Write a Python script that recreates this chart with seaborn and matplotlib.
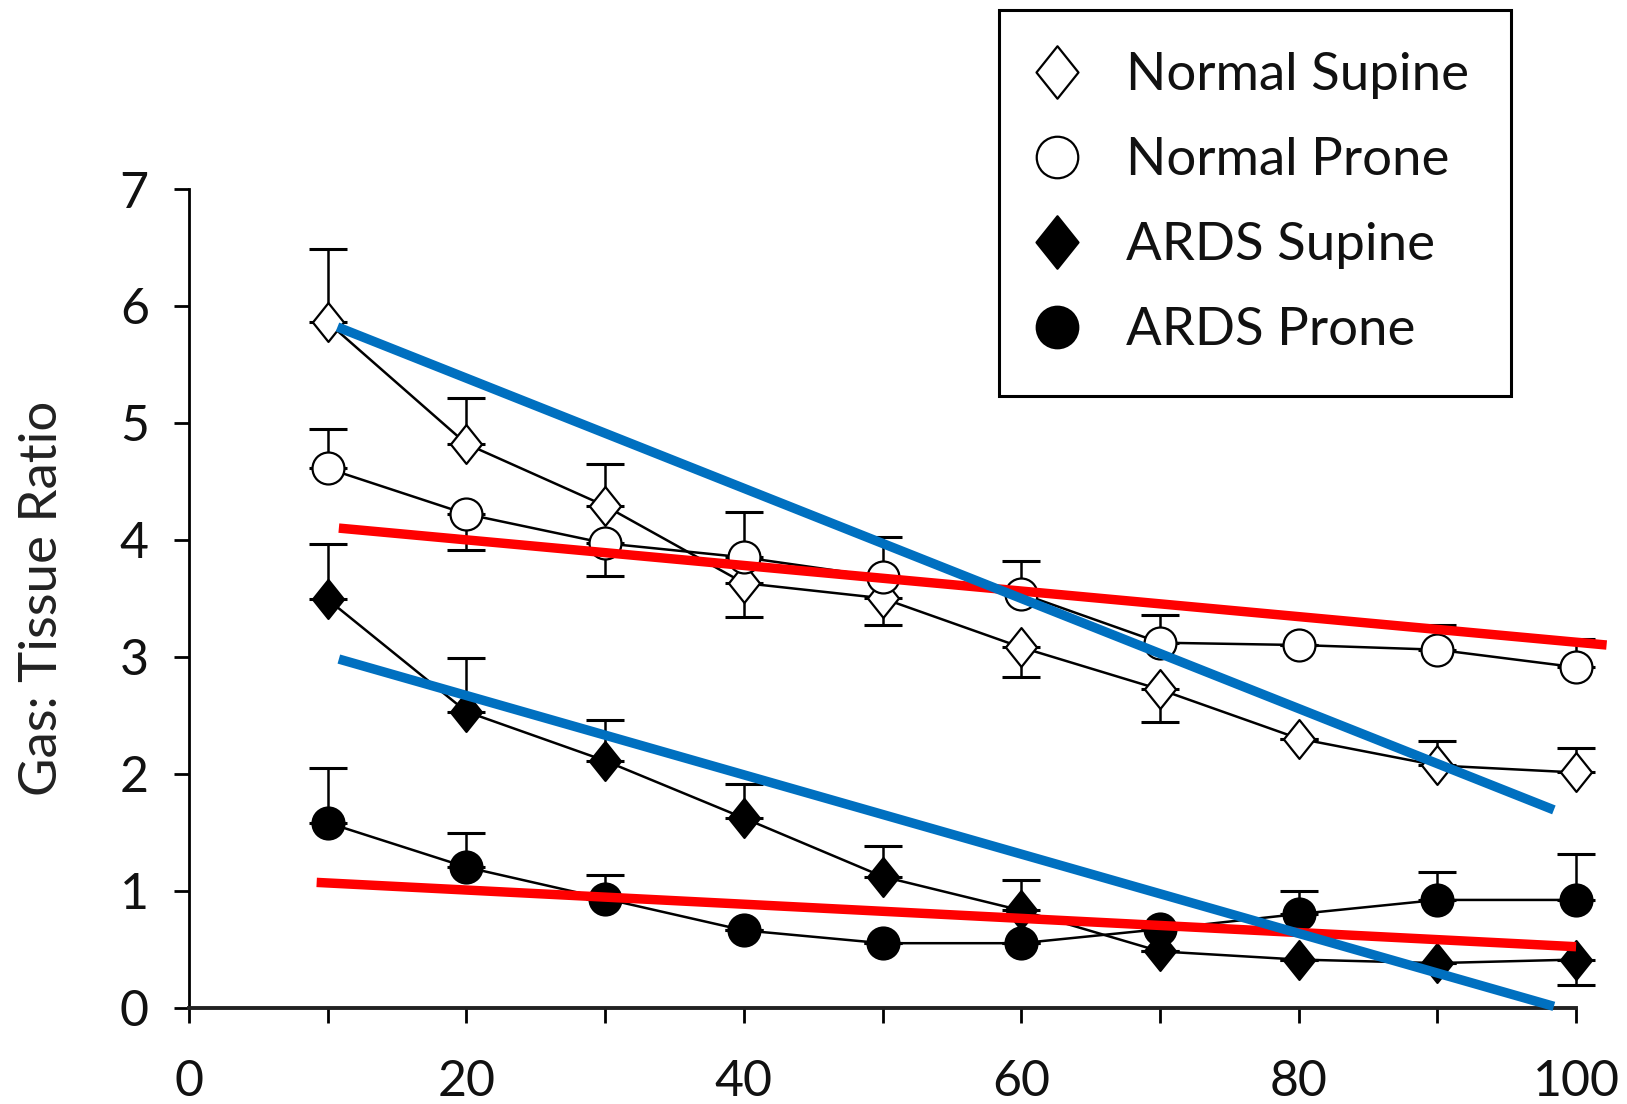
import numpy as np
import pandas as pd
import matplotlib
matplotlib.use("Agg")
import matplotlib.pyplot as plt
import seaborn as sns
from matplotlib.path import Path
from matplotlib.lines import Line2D

# ---------------- data ----------------
depth = [10, 20, 30, 40, 50, 60, 70, 80, 90, 100]

normal_supine = [5.86, 4.82, 4.29, 3.63, 3.50, 3.08, 2.72, 2.30, 2.07, 2.01]
normal_supine_lo = [0, 0, 0, 0.29, 0.23, 0.25, 0.28, 0, 0, 0]
normal_supine_hi = [0.63, 0.39, 0.36, 0, 0, 0, 0, 0, 0.21, 0.21]

normal_prone = [4.61, 4.22, 3.97, 3.85, 3.68, 3.54, 3.12, 3.10, 3.06, 2.91]
normal_prone_lo = [0, 0.31, 0.28, 0, 0, 0, 0, 0, 0, 0]
normal_prone_hi = [0.34, 0, 0, 0.39, 0.34, 0.28, 0.24, 0, 0.21, 0.24]

ards_supine = [3.49, 2.53, 2.11, 1.62, 1.12, 0.83, 0.48, 0.41, 0.38, 0.41]
ards_supine_lo = [0, 0, 0, 0, 0, 0, 0, 0, 0, 0.22]
ards_supine_hi = [0.47, 0.46, 0.35, 0.29, 0.26, 0.26, 0, 0, 0, 0]

ards_prone = [1.58, 1.20, 0.93, 0.66, 0.55, 0.55, 0.67, 0.80, 0.92, 0.92]
ards_prone_lo = [0, 0, 0, 0, 0, 0, 0, 0, 0, 0]
ards_prone_hi = [0.47, 0.29, 0.20, 0, 0, 0, 0, 0.20, 0.24, 0.39]

series_names = ["Normal Supine", "Normal Prone", "ARDS Supine", "ARDS Prone"]

# trend lines (start / end points)
red_top_x = [10.8, 102.2]
red_top_y = [4.10, 3.10]
red_bot_x = [9.2, 100.0]
red_bot_y = [1.07, 0.52]
blue_top_x = [10.7, 98.4]
blue_top_y = [5.82, 1.69]
blue_bot_x = [10.8, 98.4]
blue_bot_y = [2.98, 0.01]

x_ticks = [0, 20, 40, 60, 80, 100]
y_ticks = [0, 1, 2, 3, 4, 5, 6, 7]
y_label = "Gas: Tissue Ratio"

# ---------------- style ----------------
sns.set_theme(style="ticks")
plt.rcParams["font.family"] = ["Lato", "DejaVu Sans"]

fig = plt.figure(figsize=(16.27, 11.04), dpi=100)
ax = fig.add_axes([0.1162, 0.0874, 0.9687 - 0.1162, 0.8288 - 0.0874])

diamond = Path([(0, 1), (0.8, 0), (0, -1), (-0.8, 0), (0, 1)],
               [Path.MOVETO, Path.LINETO, Path.LINETO, Path.LINETO, Path.CLOSEPOLY])

styles = {
    "Normal Supine": dict(marker=diamond, mfc="white", ms=28),
    "Normal Prone": dict(marker="o", mfc="white", ms=23),
    "ARDS Supine": dict(marker=diamond, mfc="black", ms=28),
    "ARDS Prone": dict(marker="o", mfc="black", ms=23),
}
vals = {
    "Normal Supine": (normal_supine, normal_supine_lo, normal_supine_hi),
    "Normal Prone": (normal_prone, normal_prone_lo, normal_prone_hi),
    "ARDS Supine": (ards_supine, ards_supine_lo, ards_supine_hi),
    "ARDS Prone": (ards_prone, ards_prone_lo, ards_prone_hi),
}

for name in series_names:
    y, lo, hi = vals[name]
    ax.errorbar(depth, y, yerr=[lo, hi], fmt="none", ecolor="black",
                elinewidth=1.8, capsize=14, capthick=2.2, zorder=2, clip_on=False)

for name in series_names:
    y, lo, hi = vals[name]
    st = styles[name]
    df = pd.DataFrame({"x": depth, "y": y})
    sns.lineplot(data=df, x="x", y="y", ax=ax, color="black", linewidth=1.8,
                 marker=st["marker"], markersize=st["ms"],
                 markerfacecolor=st["mfc"], markeredgecolor="black",
                 markeredgewidth=1.6, label=name, zorder=3, clip_on=False,
                 legend=False)

for xs, ys, c in [(red_top_x, red_top_y, "#ff0000"),
                  (red_bot_x, red_bot_y, "#ff0000"),
                  (blue_top_x, blue_top_y, "#0070c0"),
                  (blue_bot_x, blue_bot_y, "#0070c0")]:
    sns.lineplot(x=xs, y=ys, ax=ax, color=c, linewidth=6.8,
                 solid_capstyle="butt", zorder=5, clip_on=False, legend=False)

ax.set_xlim(0, 100)
ax.set_ylim(0, 7)
ax.set_xticks(x_ticks)
ax.set_xticks([10, 30, 50, 70, 90], minor=True)
ax.set_yticks(y_ticks)
ax.set_xlabel("")
ax.set_ylabel(y_label, fontsize=38, color="#222222")
ax.yaxis.set_label_coords(-0.089, 0.5)

ax.tick_params(axis="both", which="both", direction="out", length=11,
               width=2, color="black", labelsize=36, labelcolor="#111111")
ax.tick_params(axis="x", which="both", pad=26)
ax.tick_params(axis="y", pad=18)
sns.despine(ax=ax)
ax.spines["left"].set_linewidth(2)
ax.spines["bottom"].set_linewidth(2.8)
ax.spines["left"].set_color("black")
ax.spines["bottom"].set_color("#222222")
ax.patch.set_facecolor("white")

leg_handles = []
for name in series_names:
    st = styles[name]
    leg_handles.append(Line2D([], [], linestyle="none", marker=st["marker"],
                              markersize=st["ms"] * (1.35 if st["marker"] is diamond else 1.3),
                              markerfacecolor=st["mfc"], markeredgecolor="black",
                              markeredgewidth=1.6))
leg = fig.legend(leg_handles, series_names, loc="upper left",
                 bbox_to_anchor=(0.614, 0.991), frameon=True, fancybox=False,
                 edgecolor="black", fontsize=38, handlelength=0.6,
                 handletextpad=1.0, labelspacing=0.72, borderpad=0.8,
                 borderaxespad=0.0, framealpha=1)
leg.get_frame().set_linewidth(2.2)
for t in leg.get_texts():
    t.set_color("#111111")

fig.savefig("out.png", dpi=100, facecolor="white")
